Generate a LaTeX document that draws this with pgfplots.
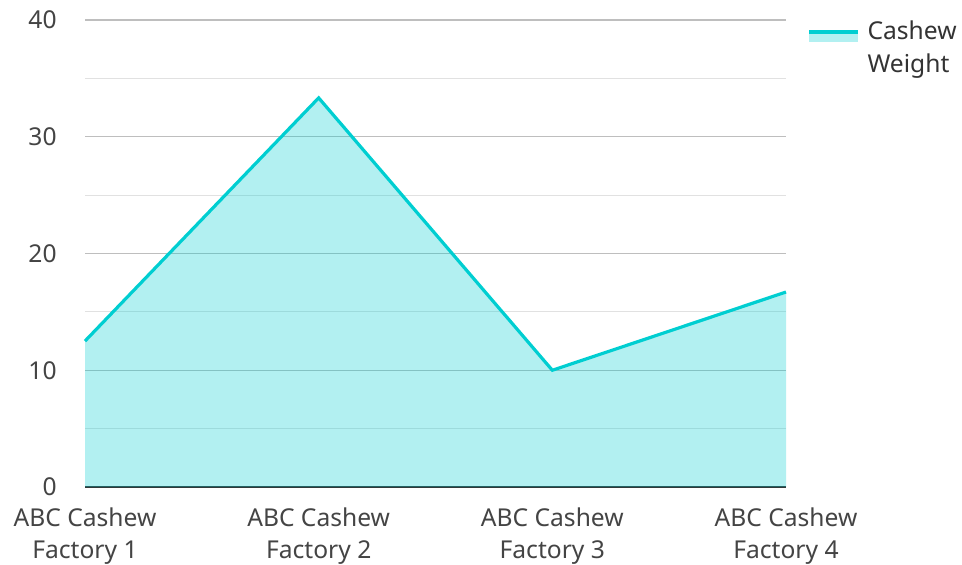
\documentclass[border=0pt]{standalone}
\usepackage{fontspec}
\setmainfont{Noto Sans}
\usepackage{pgfplots}
\pgfplotsset{compat=1.18}

\definecolor{cashew}{RGB}{0,206,209}
\definecolor{majgrid}{RGB}{190,190,190}
\definecolor{mingrid}{RGB}{225,225,225}
\definecolor{txt}{RGB}{51,51,51}
\definecolor{ticktxt}{RGB}{68,68,68}

\begin{document}
\fontsize{12.3}{16}\selectfont
\begin{tikzpicture}
\begin{axis}[
    scale only axis,
    width=350.5pt, height=233.5pt,
    at={(0,0)}, anchor=origin,
    xmin=0, xmax=3, ymin=0, ymax=40,
    xtick={0,1,2,3},
    xticklabels={ABC Cashew\\Factory 1, ABC Cashew\\Factory 2, ABC Cashew\\Factory 3, ABC Cashew\\Factory 4},
    xticklabel style={align=center, anchor=north, inner sep=0pt, yshift=-10pt, text=ticktxt, font=\fontsize{12.3}{16}\selectfont},
    ytick={0,10,20,30,40},
    minor ytick={5,15,25,35},
    yticklabel style={anchor=east, inner sep=0pt, xshift=-14pt, text=ticktxt, font=\fontsize{12.3}{16}\selectfont},
    /pgf/number format/assume math mode=true,
    major tick length=0pt, minor tick length=0pt,
    ymajorgrids, yminorgrids,
    major grid style={majgrid, line width=0.55pt},
    minor grid style={mingrid, line width=0.55pt},
    axis x line*=bottom,
    axis y line*=left,
    x axis line style={txt, line width=0.9pt, -},
    y axis line style={draw=none},
    clip=false,
    legend style={draw=none, fill=none, at={(rel axis cs:1,1)}, anchor=north west,
        xshift=10.5pt, yshift=2pt, inner sep=0pt,
        font=\fontsize{12.3}{16.5}\selectfont, text=txt,
        cells={align=left, anchor=west},
        nodes={inner xsep=2.5pt}},
    legend image code/.code={
        \path[fill=cashew, fill opacity=0.3, draw=none] (0pt,3pt) rectangle (24.5pt,7.5pt);
        \path[draw=cashew, line width=1.6pt] (0pt,8.1pt) -- (24.5pt,8.1pt);
        \path (26pt,0pt);
    },
]
\addplot[draw=none, fill=cashew, fill opacity=0.3, forget plot]
    coordinates {(0,12.5) (1,33.33) (2,10.0) (3,16.7)} \closedcycle;
\addplot[cashew, line width=1.6pt]
    coordinates {(0,12.5) (1,33.33) (2,10.0) (3,16.7)};
\addlegendentry{Cashew\\Weight}
\end{axis}
\path (-42.5pt,-37pt) rectangle (438.5pt,243.5pt);
\end{tikzpicture}
\end{document}
